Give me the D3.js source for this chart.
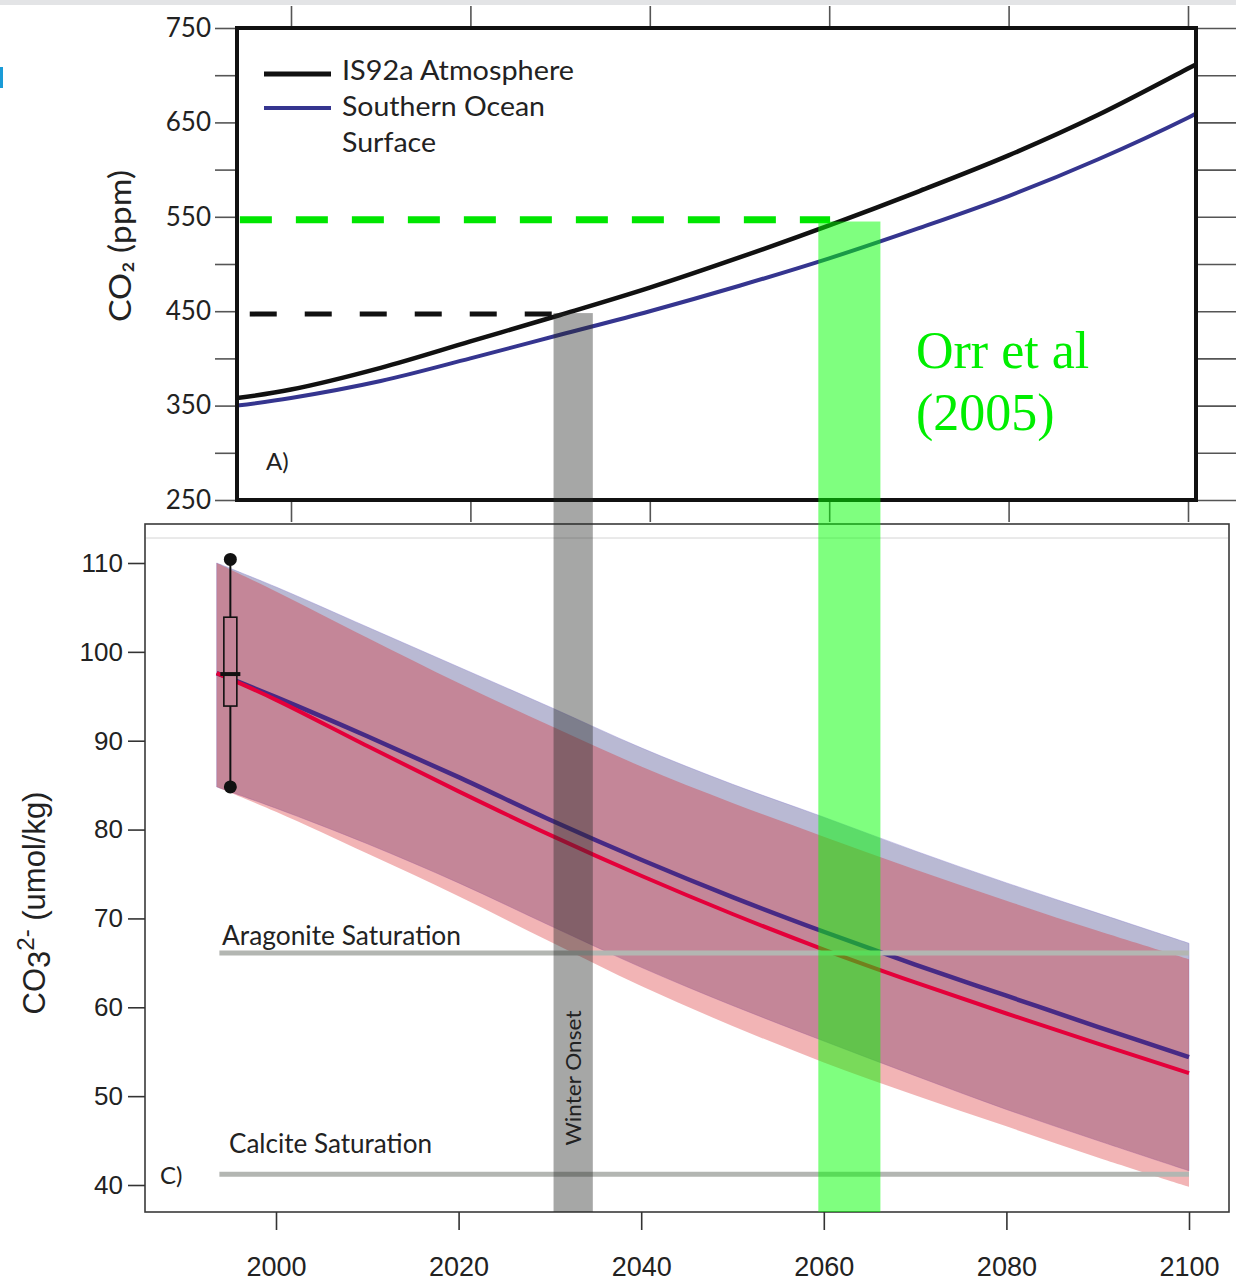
<!DOCTYPE html>
<html>
<head>
<meta charset="utf-8">
<script src="https://cdn.jsdelivr.net/npm/d3@7"></script>
<style>
  body { margin: 0; background: #fff; }
  svg { display: block; }
</style>
</head>
<body>
<script>
// ---- panel A: CO2 (ppm) ----
const atmYears = [1994, 2000, 2010, 2020, 2030, 2040, 2050, 2060, 2070, 2080, 2090, 2100, 2101];
const atmosphereCO2 = [358, 367, 390, 418, 446, 475, 507, 541, 577, 615, 658, 707, 712];
const oceanCO2 = [350, 358, 376, 400, 425, 450, 477, 506, 538, 572, 611, 655, 660];
const co2Ticks = [250, 300, 350, 400, 450, 500, 550, 600, 650, 700, 750];
const co2Labels = [250, 350, 450, 550, 650, 750];
const yearTicks = [2000, 2020, 2040, 2060, 2080, 2100];
const legendNames = ["IS92a Atmosphere", "Southern Ocean", "Surface"];
const threshold450 = { from: 1995.4, to: 2029.4, value: 447 };
const threshold550 = { from: 1994.3, to: 2060.1, value: 547 };

// ---- panel C: CO3 2- (umol/kg) ----
const co3Years = [1993.5, 2000, 2010, 2020, 2030, 2040, 2050, 2060, 2070, 2080, 2090, 2100];
const blueMean = [97.6, 94.9, 90.5, 85.9, 81.1, 76.6, 72.4, 68.5, 64.8, 61.3, 57.8, 54.4];
const redMean = [97.6, 94.6, 89.4, 84.3, 79.4, 74.8, 70.5, 66.5, 62.8, 59.3, 55.9, 52.6];
const blueUpper = [110, 107.3, 102.8, 98.3, 93.8, 89.2, 85.1, 81.4, 77.6, 74.0, 70.6, 67.2];
const blueLower = [84.8, 82.4, 78.4, 74.0, 69.2, 64.5, 60.2, 56.2, 52.3, 48.5, 45.0, 41.6];
const redUpper = [110, 106.8, 101.6, 96.5, 91.7, 87.1, 83.0, 79.2, 75.5, 72.0, 68.6, 65.4];
const redLower = [84.8, 82.0, 77.3, 72.5, 67.4, 62.4, 57.9, 53.8, 50.1, 46.6, 43.1, 39.8];
const co3Ticks = [40, 50, 60, 70, 80, 90, 100, 110];
const saturation = [
  { name: "Aragonite Saturation", value: 66.1 },
  { name: "Calcite Saturation", value: 41.2 }
];
const satSpan = [1993.8, 2100];
const obsBox = { year: 1995, min: 84.8, q1: 93.9, median: 97.5, q3: 103.9, max: 110.4 };

// vertical bands (years), top given in ppm on panel A
const winterOnset = { from: 2030.4, to: 2034.7, top: 448 };
const orrBand = { from: 2059.4, to: 2066.2, top: 545 };

const W = 1236, H = 1282;
const svg = d3.select("body").append("svg").attr("width", W).attr("height", H);

// page furniture
svg.append("rect").attr("x", 0).attr("y", 0).attr("width", W).attr("height", 5).attr("fill", "#e3e4e6");
svg.append("rect").attr("x", 0).attr("y", 67).attr("width", 3).attr("height", 21).attr("fill", "#1a9bd7");

// ---------- panel A ----------
const boxA = { l: 237, r: 1196, t: 28, b: 500 };
const xTop = d3.scaleLinear().domain([2000, 2100]).range([291, 1188]);
const yTop = d3.scaleLinear().domain([250, 750]).range([boxA.b, boxA.t]);

const gA = svg.append("g");

const leftAx = gA.append("g").attr("transform", `translate(${boxA.l},0)`)
  .call(d3.axisLeft(yTop).tickValues(co2Ticks).tickSize(22).tickPadding(4)
    .tickFormat(d => co2Labels.includes(d) ? d : ""));
const rightAx = gA.append("g").attr("transform", `translate(${boxA.r},0)`)
  .call(d3.axisRight(yTop).tickValues(co2Ticks).tickSize(44).tickFormat(""));
const topAx = gA.append("g").attr("transform", `translate(0,${boxA.t})`)
  .call(d3.axisTop(xTop).tickValues(yearTicks).tickSize(22).tickFormat(""));
const botAx = gA.append("g").attr("transform", `translate(0,${boxA.b})`)
  .call(d3.axisBottom(xTop).tickValues(yearTicks).tickSize(22).tickFormat(""));
[leftAx, rightAx, topAx, botAx].forEach(a => {
  a.select(".domain").remove();
  a.selectAll(".tick line").attr("stroke", "#555").attr("stroke-width", 1.6);
});
leftAx.selectAll("text").attr("font-family", "Lato, 'Open Sans', sans-serif")
  .attr("font-size", 26).attr("fill", "#222");

gA.append("defs").append("clipPath").attr("id", "clipA")
  .append("rect").attr("x", boxA.l).attr("y", boxA.t)
  .attr("width", boxA.r - boxA.l).attr("height", boxA.b - boxA.t);

const lineTop = d3.line().x(d => xTop(d[0])).y(d => yTop(d[1])).curve(d3.curveCatmullRom);
const plotA = gA.append("g").attr("clip-path", "url(#clipA)");
plotA.append("path").datum(atmYears.map((y, i) => [y, oceanCO2[i]]))
  .attr("d", lineTop).attr("fill", "none").attr("stroke", "#35358f").attr("stroke-width", 4);
plotA.append("path").datum(atmYears.map((y, i) => [y, atmosphereCO2[i]]))
  .attr("d", lineTop).attr("fill", "none").attr("stroke", "#111").attr("stroke-width", 4.5);

plotA.append("line")
  .attr("x1", xTop(threshold450.from)).attr("x2", xTop(threshold450.to))
  .attr("y1", yTop(threshold450.value)).attr("y2", yTop(threshold450.value))
  .attr("stroke", "#111").attr("stroke-width", 5).attr("stroke-dasharray", "27 28");
plotA.append("line")
  .attr("x1", xTop(threshold550.from)).attr("x2", xTop(threshold550.to))
  .attr("y1", yTop(threshold550.value)).attr("y2", yTop(threshold550.value))
  .attr("stroke", "#00e600").attr("stroke-width", 7).attr("stroke-dasharray", "32 24");

gA.append("rect").attr("x", boxA.l).attr("y", boxA.t)
  .attr("width", boxA.r - boxA.l).attr("height", boxA.b - boxA.t)
  .attr("fill", "none").attr("stroke", "#111").attr("stroke-width", 4);

// legend
const legend = gA.append("g").attr("font-family", "Lato, 'Open Sans', sans-serif")
  .attr("font-size", 26).attr("fill", "#222");
legend.append("line").attr("x1", 264).attr("x2", 331).attr("y1", 74).attr("y2", 74)
  .attr("stroke", "#111").attr("stroke-width", 5);
legend.append("line").attr("x1", 264).attr("x2", 331).attr("y1", 108).attr("y2", 108)
  .attr("stroke", "#35358f").attr("stroke-width", 4);
const legendW = [232, 203, 94];
legend.selectAll("text").data(legendNames).enter().append("text")
  .attr("x", 342).attr("y", (d, i) => 80 + i * 36)
  .attr("textLength", (d, i) => legendW[i]).attr("lengthAdjust", "spacingAndGlyphs")
  .text(d => d);

gA.append("text").attr("x", 266).attr("y", 470)
  .attr("font-family", "Lato, 'Open Sans', sans-serif").attr("font-size", 24).attr("fill", "#222")
  .text("A)");

svg.append("text").attr("transform", "translate(131,246) rotate(-90)")
  .attr("text-anchor", "middle").attr("font-family", "Lato, 'Open Sans', sans-serif")
  .attr("font-size", 31).attr("fill", "#222")
  .attr("textLength", 152).attr("lengthAdjust", "spacingAndGlyphs")
  .text("CO₂ (ppm)");

// ---------- panel C ----------
const boxC = { l: 145, r: 1229, t: 524, b: 1212 };
const xBot = d3.scaleLinear().domain([2000, 2100]).range([276, 1189]);
const yBot = d3.scaleLinear().domain([40, 110]).range([1185, 563]);

const gC = svg.append("g");
gC.append("rect").attr("x", boxC.l).attr("y", boxC.t)
  .attr("width", boxC.r - boxC.l).attr("height", boxC.b - boxC.t)
  .attr("fill", "#fff").attr("stroke", "#3a3a3a").attr("stroke-width", 1.6);
gC.append("line").attr("x1", boxC.l + 1).attr("x2", boxC.r - 1).attr("y1", 538).attr("y2", 538)
  .attr("stroke", "#d4d4d4").attr("stroke-width", 1);

const yAxC = gC.append("g").attr("transform", `translate(${boxC.l},0)`)
  .call(d3.axisLeft(yBot).tickValues(co3Ticks).tickSize(17).tickPadding(5));
const xAxC = gC.append("g").attr("transform", `translate(0,${boxC.b})`)
  .call(d3.axisBottom(xBot).tickValues(yearTicks).tickSize(18).tickPadding(27).tickFormat(d3.format("d")));
[yAxC, xAxC].forEach(a => {
  a.select(".domain").remove();
  a.selectAll(".tick line").attr("stroke", "#333").attr("stroke-width", 1.6);
  a.selectAll("text").attr("font-family", "'Liberation Sans', Arial, sans-serif").attr("fill", "#222");
});
yAxC.selectAll("text").attr("font-size", 26);
xAxC.selectAll("text").attr("font-size", 27);

const rows = co3Years.map((y, i) => ({
  year: y, bm: blueMean[i], rm: redMean[i],
  bu: blueUpper[i], bl: blueLower[i], ru: redUpper[i], rl: redLower[i]
}));
const bandArea = (lo, hi) => d3.area().x(d => xBot(d.year))
  .y0(d => yBot(d[lo])).y1(d => yBot(d[hi])).curve(d3.curveCatmullRom);
gC.append("path").datum(rows).attr("d", bandArea("bl", "bu"))
  .attr("fill", "#505091").attr("fill-opacity", 0.4)
  .attr("stroke", "#8a7fd0").attr("stroke-opacity", 0.5).attr("stroke-width", 0.8);
gC.append("path").datum(rows).attr("d", bandArea("rl", "ru"))
  .attr("fill", "#d92227").attr("fill-opacity", 0.34);

const meanLine = key => d3.line().x(d => xBot(d.year)).y(d => yBot(d[key])).curve(d3.curveCatmullRom);
gC.append("path").datum(rows).attr("d", meanLine("bm"))
  .attr("fill", "none").attr("stroke", "#472a85").attr("stroke-width", 4.5);
gC.append("path").datum(rows).attr("d", meanLine("rm"))
  .attr("fill", "none").attr("stroke", "#e4003a").attr("stroke-width", 4);

// saturation horizons
const sat = gC.selectAll("g.sat").data(saturation).enter().append("g").attr("class", "sat");
sat.append("line")
  .attr("x1", xBot(satSpan[0])).attr("x2", xBot(satSpan[1]))
  .attr("y1", d => yBot(d.value)).attr("y2", d => yBot(d.value))
  .attr("stroke", "#b3b6b2").attr("stroke-width", 5);
const satLabelX = [222, 229];
const satLabelW = [239, 203];
sat.append("text")
  .attr("x", (d, i) => satLabelX[i]).attr("y", (d, i) => yBot(d.value) - (i === 0 ? 8 : 21))
  .attr("font-family", "Lato, 'Open Sans', sans-serif").attr("font-size", 26).attr("fill", "#222")
  .attr("textLength", (d, i) => satLabelW[i]).attr("lengthAdjust", "spacingAndGlyphs")
  .text(d => d.name);

// observed range box plot
const bp = gC.append("g").attr("stroke", "#111").attr("fill", "none");
const bx = xBot(obsBox.year);
bp.append("line").attr("x1", bx).attr("x2", bx)
  .attr("y1", yBot(obsBox.max)).attr("y2", yBot(obsBox.min)).attr("stroke-width", 2);
bp.append("rect").attr("x", bx - 6.5).attr("width", 13)
  .attr("y", yBot(obsBox.q3)).attr("height", yBot(obsBox.q1) - yBot(obsBox.q3))
  .attr("fill", "#c48598").attr("stroke-width", 1.6);
bp.append("line").attr("x1", bx - 10).attr("x2", bx + 10)
  .attr("y1", yBot(obsBox.median)).attr("y2", yBot(obsBox.median)).attr("stroke-width", 4);
bp.selectAll("circle").data([obsBox.max, obsBox.min]).enter().append("circle")
  .attr("cx", bx).attr("cy", d => yBot(d)).attr("r", 6.5).attr("fill", "#111").attr("stroke", "none");

gC.append("text").attr("x", 160).attr("y", 1184)
  .attr("font-family", "Lato, 'Open Sans', sans-serif").attr("font-size", 24).attr("fill", "#222")
  .text("C)");

const yTitle = svg.append("text").attr("transform", "translate(45,903) rotate(-90)")
  .attr("text-anchor", "middle").attr("font-family", "'Liberation Sans', Arial, sans-serif")
  .attr("font-size", 31).attr("fill", "#222");
yTitle.append("tspan").text("CO");
yTitle.append("tspan").attr("dy", 5).text("3");
yTitle.append("tspan").attr("dy", -16).attr("font-size", 24).text("2-");
yTitle.append("tspan").attr("dy", 11).text(" (umol/kg)");

// ---------- vertical bands across both panels ----------
const bands = svg.append("g");
bands.append("rect")
  .attr("x", xBot(winterOnset.from)).attr("width", xBot(winterOnset.to) - xBot(winterOnset.from))
  .attr("y", yTop(winterOnset.top)).attr("height", boxC.b - yTop(winterOnset.top))
  .attr("fill", "#262a26").attr("fill-opacity", 0.41);
bands.append("rect")
  .attr("x", xBot(orrBand.from)).attr("width", xBot(orrBand.to) - xBot(orrBand.from))
  .attr("y", yTop(orrBand.top)).attr("height", boxC.b - yTop(orrBand.top))
  .attr("fill", "#00ff00").attr("fill-opacity", 0.5);

const wx = (xBot(winterOnset.from) + xBot(winterOnset.to)) / 2 + 8;
svg.append("text").attr("transform", `translate(${wx},1078) rotate(-90)`)
  .attr("text-anchor", "middle").attr("font-family", "Lato, 'Open Sans', sans-serif")
  .attr("font-size", 22).attr("fill", "#222")
  .attr("textLength", 135).attr("lengthAdjust", "spacingAndGlyphs")
  .text("Winter Onset");

const orr = svg.append("text").attr("font-family", "'Liberation Serif', 'Times New Roman', serif")
  .attr("font-size", 52).attr("fill", "#00ee00");
orr.append("tspan").attr("x", 916).attr("y", 368).text("Orr et al");
orr.append("tspan").attr("x", 916).attr("y", 430).text("(2005)");
</script>
</body>
</html>
